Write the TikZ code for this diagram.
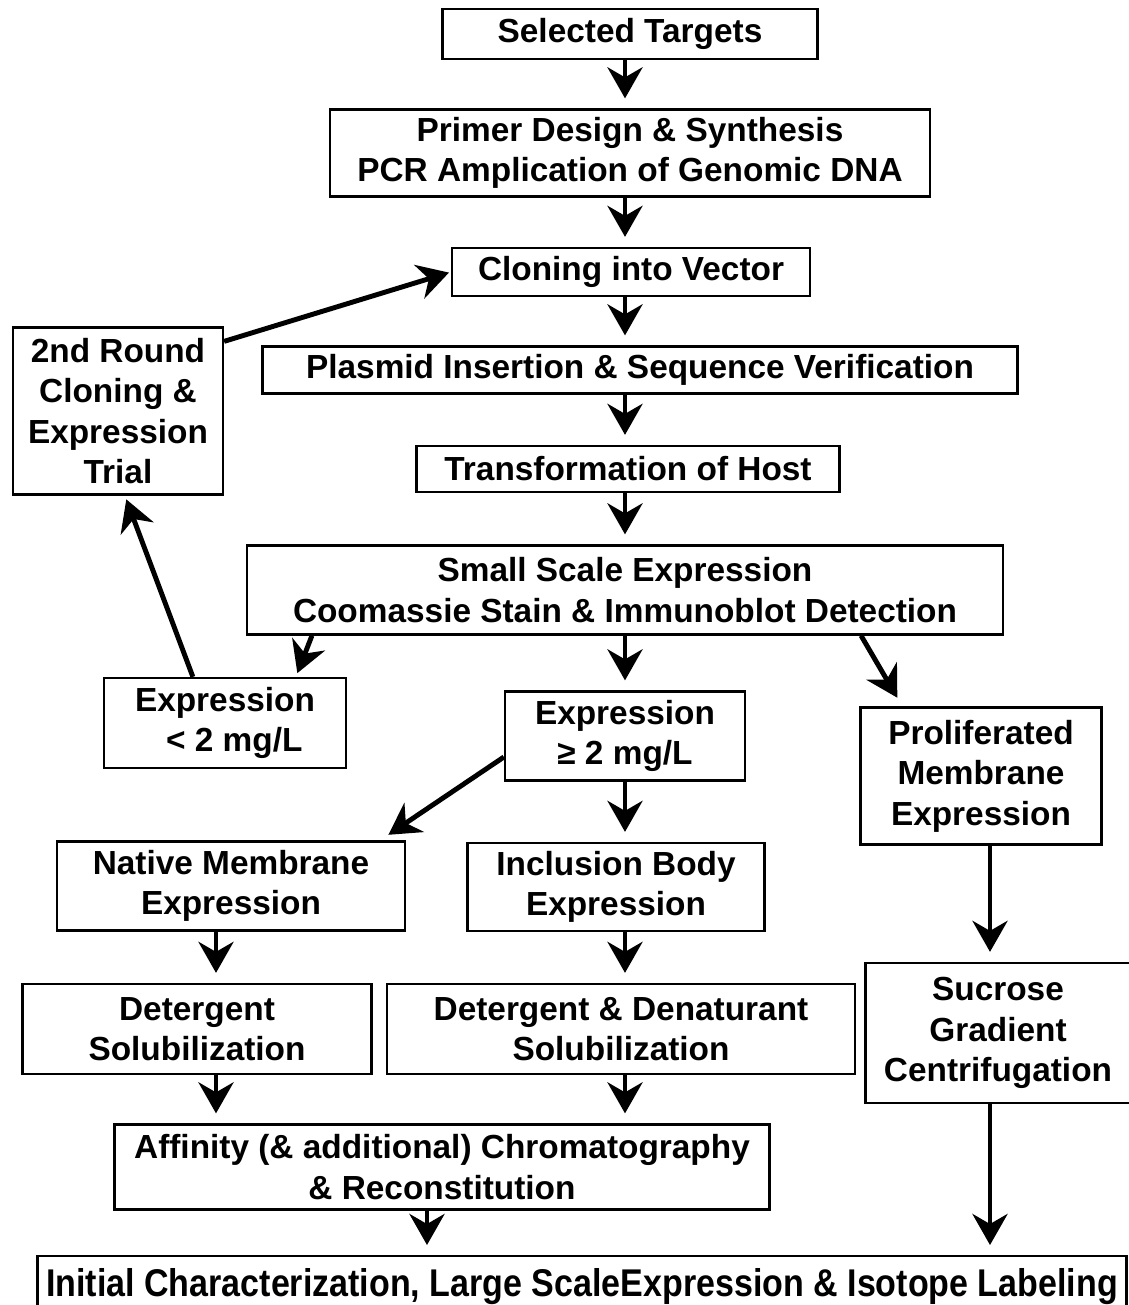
\documentclass[tikz,border=0pt]{standalone}
\usepackage{fontspec}
\setmainfont{Liberation Sans}
\newfontfamily\narrowfont[FakeStretch=0.88]{Liberation Sans}
\usetikzlibrary{arrows.meta,calc}

\begin{document}
\begin{tikzpicture}[x=0.02cm, y=-0.02cm,
  box/.style={draw, line width=1.3pt, align=center, inner sep=2pt, font=\fontsize{19}{23}\selectfont\bfseries},
  arr/.style={-{Stealth[length=0.62cm, width=0.7cm, inset=0.2cm]}, line width=2.8pt, shorten >=0.2cm}
]
  \useasboundingbox (0,0) rectangle (1129,1305);
  \clip (0,0) rectangle (1129,1305);
  % arrow columns
  \coordinate (colA) at (216,0);
  \coordinate (colB) at (625,0);
  \coordinate (colC) at (990,0);
  \coordinate (colD) at (427,0);
  % main column
  \node[box, minimum width=7.5cm, minimum height=1cm] (sel) at (630,34) {Selected Targets};
  \node[box, minimum width=12cm, minimum height=1.74cm] (primer) at (630,153) {Primer Design \& Synthesis\\PCR Amplication of Genomic DNA};
  \node[box, minimum width=7.16cm, minimum height=0.96cm] (clone) at (631,272) {Cloning into Vector};
  \node[box, minimum width=15.1cm, minimum height=0.94cm] (plasmid) at (640,370) {Plasmid Insertion \& Sequence Verification};
  \node[box, minimum width=8.46cm, minimum height=0.92cm] (transf) at (628,469) {Transformation of Host};
  \node[box, minimum width=15.12cm, minimum height=1.78cm] (small) at (625,590) {Small Scale Expression\\Coomassie Stain \& Immunoblot Detection};
  \node[box, minimum width=4.2cm, minimum height=3.34cm] (second) at (118,411) {2nd Round\\Cloning \&\\Expression\\Trial};
  % expression levels
  \node[box, minimum width=4.84cm, minimum height=1.8cm] (low) at (225,723) {Expression\\\ \ < 2 mg/L};
  \node[box, minimum width=4.8cm, minimum height=1.78cm] (high) at (625,736) {Expression\\≥ 2 mg/L};
  \node[box, minimum width=4.82cm, minimum height=2.74cm] (prolif) at (981,776) {Proliferated\\Membrane\\Expression};
  \node[box, minimum width=6.96cm, minimum height=1.78cm] (native) at (231,886) {Native Membrane\\Expression};
  \node[box, minimum width=5.94cm, minimum height=1.76cm] (inclusion) at (616,887) {Inclusion Body\\Expression};
  \node[box, minimum width=6.98cm, minimum height=1.8cm] (detsol) at (197,1029) {Detergent\\Solubilization};
  \node[box, minimum width=9.36cm, minimum height=1.8cm] (detden) at (621,1029) {Detergent \& Denaturant\\Solubilization};
  \node[box, minimum width=5.3cm, minimum height=2.8cm] (sucrose) at (998,1033) {Sucrose\\Gradient\\Centrifugation};
  \node[box, minimum width=13.1cm, minimum height=1.7cm] (affinity) at (442,1167) {Affinity (\& additional) Chromatography\\\& Reconstitution};
  \node[box, minimum width=21.78cm, minimum height=1.4cm, font=\narrowfont\fontsize{22}{25}\selectfont\bfseries, anchor=north] (initial) at (582,1255) {\raisebox{0.35cm}{Initial Characterization, Large ScaleExpression \& Isotope Labeling}};
  % straight arrows
  \draw[arr] (sel.south -| colB) -- (primer.north -| colB);
  \draw[arr] (primer.south -| colB) -- (clone.north -| colB);
  \draw[arr] (clone.south -| colB) -- (plasmid.north -| colB);
  \draw[arr] (plasmid.south -| colB) -- (transf.north -| colB);
  \draw[arr] (transf.south -| colB) -- (small.north -| colB);
  \draw[arr] (small.south -| colB) -- (high.north -| colB);
  \draw[arr] (high.south -| colB) -- (inclusion.north -| colB);
  \draw[arr] (inclusion.south -| colB) -- (detden.north -| colB);
  \draw[arr] (detden.south -| colB) -- (affinity.north -| colB);
  \draw[arr] (native.south -| colA) -- (detsol.north -| colA);
  \draw[arr] (detsol.south -| colA) -- (affinity.north -| colA);
  \draw[arr] (prolif.south -| colC) -- (sucrose.north -| colC);
  \draw[arr] (sucrose.south -| colC) -- (initial.north -| colC);
  \draw[arr] (affinity.south -| colD) -- (initial.north -| colD);
  % slanted arrows
  \draw[arr, shorten >=0.04cm] ($(second.north east)+(0,15)$) -- (clone.west);
  \draw[arr, shorten >=0.08cm] ($(small.south west)+(66,0)$) -- ($(low.north west)+(193,0)$);
  \draw[arr, shorten >=0.08cm] ($(low.north west)+(90,0)$) -- ($(second.south west)+(113,0)$);
  \draw[arr] ($(small.south east)+(-143,0)$) -- ($(prolif.north west)+(43,0)$);
  \draw[arr] ($(high.west)+(0,21)$) -- ($(native.north east)+(-26,0)$);
\end{tikzpicture}
\end{document}
